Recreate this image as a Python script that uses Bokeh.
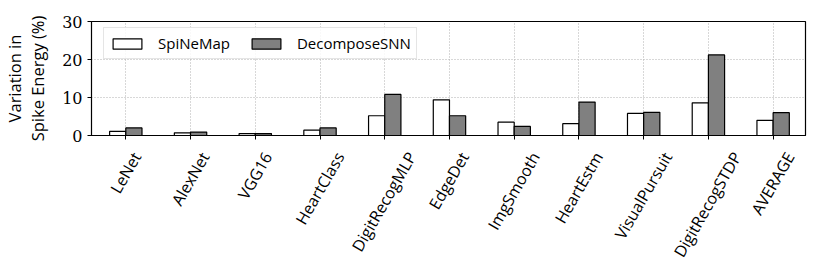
import math
from bokeh.plotting import figure
from bokeh.models import (ColumnDataSource, FixedTicker, Legend, LegendItem, Range1d,
                          LinearAxis)
from bokeh.transform import dodge
from bokeh.embed import file_html
from bokeh.resources import INLINE

categories = ["LeNet", "AlexNet", "VGG16", "HeartClass", "DigitRecogMLP", "EdgeDet",
              "ImgSmooth", "HeartEstm", "VisualPursuit", "DigitRecogSTDP", "AVERAGE"]
spinemap = [1.1, 0.7, 0.5, 1.4, 5.2, 9.4, 3.5, 3.1, 5.8, 8.6, 4.0]
decomposesnn = [2.0, 0.9, 0.5, 2.0, 10.8, 5.2, 2.4, 8.8, 6.1, 21.2, 6.0]
y_ticks = [0, 10, 20, 30]

# approximate Open Sans advance widths (em) to centre the rotated tick labels
_W = {"A": .633, "V": .584, "E": .556, "R": .603, "G": .717, "D": .717, "H": .754,
      "L": .521, "M": .903, "N": .769, "P": .6, "S": .549, "T": .556, "I": .279,
      "C": .64, "a": .556, "c": .479, "e": .561, "g": .495, "h": .613, "i": .258,
      "l": .258, "m": .93, "n": .613, "o": .601, "r": .408, "s": .477, "t": .352,
      "u": .613, "x": .523, "p": .613, "1": .572, "6": .572}
LBL_FS = 16
def text_len(s):
    return sum(_W.get(ch, .56) for ch in s) * LBL_FS

W, H = 822, 274
BL, BR, BT, BB = 80, 17, 21, 139
X0, X1 = -0.53, 10.5
px_per_unit = (W - BL - BR) / (X1 - X0)

xs = list(range(len(categories)))
src = ColumnDataSource(dict(x=xs, a=spinemap, b=decomposesnn))

p = figure(width=W, height=H, output_backend="svg", toolbar_location=None,
           x_range=Range1d(X0, X1), y_range=Range1d(0, 30),
           min_border_left=BL, min_border_right=BR, min_border_top=BT, min_border_bottom=BB)
p.background_fill_color = "white"
p.border_fill_color = "white"
p.outline_line_color = "black"
p.outline_line_width = 1.2

w = 0.25
r1 = p.vbar(x=dodge("x", -w / 2, range=p.x_range), top="a", width=w, source=src,
            fill_color="white", line_color="black", line_width=1.2)
r2 = p.vbar(x=dodge("x", w / 2, range=p.x_range), top="b", width=w, source=src,
            fill_color="#808080", line_color="black", line_width=1.2)

# main x axis: tick marks only
p.xaxis.ticker = FixedTicker(ticks=xs)
p.xaxis.major_label_overrides = {i: "" for i in xs}
p.xaxis.major_label_text_font_size = "1px"
p.xaxis.major_label_standoff = 0
p.xaxis.minor_tick_line_color = None
p.xaxis.major_tick_in = 0
p.xaxis.major_tick_out = 4
p.xaxis.major_tick_line_color = "black"
p.xaxis.axis_line_color = "black"

# label axis: tick labels shifted so each rotated label's box is centred on its tick
shifted = [round(xi + text_len(c) * 0.25 / px_per_unit, 4) for xi, c in zip(xs, categories)]
lab_axis = LinearAxis(ticker=FixedTicker(ticks=shifted),
                      major_label_overrides={s: c for s, c in zip(shifted, categories)},
                      major_label_orientation=math.pi / 3,
                      major_label_text_font="Open Sans",
                      major_label_text_font_size=f"{LBL_FS}px",
                      major_label_text_color="black",
                      major_label_standoff=8,
                      axis_line_color=None, major_tick_line_color=None,
                      minor_tick_line_color=None)
p.add_layout(lab_axis, "below")

p.yaxis.ticker = FixedTicker(ticks=y_ticks)
p.yaxis.minor_tick_line_color = None
p.yaxis.major_tick_in = 0
p.yaxis.major_tick_out = 4
p.yaxis.major_tick_line_color = "black"
p.yaxis.major_label_text_font = "DejaVu Serif"
p.yaxis.major_label_text_font_size = "16px"
p.yaxis.major_label_text_color = "black"
p.yaxis.axis_label = "Variation in\nSpike Energy (%)"
p.yaxis.axis_label_text_font = "Open Sans"
p.yaxis.axis_label_text_font_style = "normal"
p.yaxis.axis_label_text_font_size = "16.5px"
p.yaxis.axis_label_text_line_height = 1.0
p.yaxis.axis_label_text_color = "black"
p.yaxis.axis_label_standoff = 10

p.xgrid.grid_line_color = "#b0b0b0"
p.xgrid.grid_line_dash = "1 2"
p.ygrid.grid_line_color = "#b0b0b0"
p.ygrid.grid_line_dash = "1 2"

legend = Legend(items=[LegendItem(label="SpiNeMap", renderers=[r1]),
                       LegendItem(label="DecomposeSNN", renderers=[r2])],
                orientation="horizontal", location=(12, 76))
legend.margin = 0
legend.label_text_font = "Open Sans"
legend.label_text_font_size = "15px"
legend.label_text_color = "black"
legend.glyph_width = 36
legend.glyph_height = 13
legend.label_standoff = 13
legend.spacing = 18
legend.padding = 5
legend.label_height = 17
legend.border_line_color = "#cccccc"
legend.border_line_width = 1
legend.background_fill_alpha = 0.85
p.add_layout(legend)

open("out.html", "w").write(file_html(p, INLINE))
